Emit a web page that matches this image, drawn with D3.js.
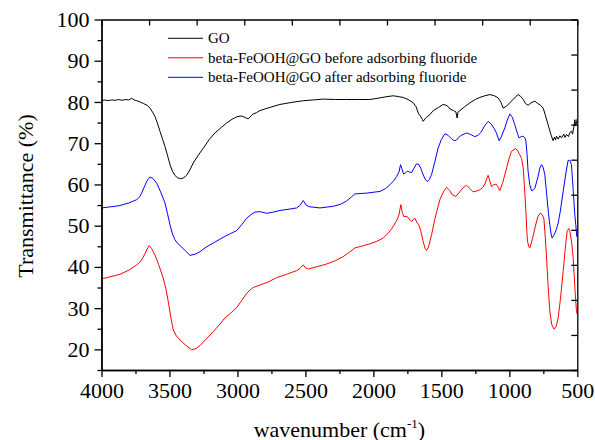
<!DOCTYPE html>
<html><head><meta charset="utf-8">
<script src="https://cdn.jsdelivr.net/npm/d3@7"></script>
<style>
html,body{margin:0;padding:0;background:#fff;}
svg text{font-family:"Liberation Serif","Times New Roman",serif;fill:#000;}
</style></head>
<body>
<svg id="chart" width="595" height="440"></svg>
<script>
// ---------- data ----------
const seriesNames = ["GO", "beta-FeOOH@GO before adsorbing fluoride", "beta-FeOOH@GO after adsorbing fluoride"];
const seriesColors = ["#000000", "#ff0000", "#0000ff"];
const xTicks = [4000, 3500, 3000, 2500, 2000, 1500, 1000, 500];
const yTicks = [20, 30, 40, 50, 60, 70, 80, 90, 100];

const goData = [[4000,80.3],[3975,80.5],[3950,80.3],[3925,80.5],[3900,80.4],[3875,80.6],[3850,80.4],[3825,80.6],[3800,80.5],[3778,80.9],[3760,80.5],[3740,80.3],[3717,80.0],[3690,79.6],[3665,79.2],[3643,78.5],[3620,77.3],[3607,76.5],[3590,75.0],[3570,72.9],[3550,70.9],[3533,69.2],[3515,67.1],[3496,64.8],[3478,63.2],[3460,62.2],[3440,61.6],[3418,61.4],[3395,61.6],[3374,62.2],[3350,63.5],[3325,65.2],[3290,67.0],[3251,68.8],[3210,70.8],[3165,72.5],[3120,73.8],[3079,74.9],[3040,75.8],[3006,76.4],[2970,76.6],[2940,76.2],[2921,75.9],[2900,76.6],[2884,77.1],[2860,77.4],[2835,77.9],[2760,78.7],[2687,79.4],[2600,79.9],[2516,80.3],[2440,80.5],[2369,80.7],[2280,80.6],[2197,80.6],[2110,80.6],[2026,80.6],[1950,81.0],[1900,81.3],[1854,81.5],[1815,81.3],[1781,81.1],[1745,80.6],[1707,79.8],[1685,78.8],[1670,77.3],[1655,76.6],[1640,75.8],[1634,75.3],[1620,75.9],[1609,76.3],[1585,76.9],[1560,77.9],[1520,78.7],[1487,79.4],[1465,79.2],[1450,78.9],[1437,78.3],[1410,77.9],[1393,77.6],[1384,76.1],[1378,77.5],[1364,77.9],[1330,78.8],[1290,79.8],[1250,80.6],[1217,81.1],[1180,81.5],[1143,81.8],[1110,81.5],[1082,81.0],[1060,79.8],[1046,78.5],[1020,79.0],[996,79.8],[965,80.9],[935,81.8],[915,81.3],[898,80.6],[880,79.6],[862,79.2],[840,79.8],[812,80.2],[790,79.6],[770,79.2],[751,78.5],[735,76.8],[715,74.5],[695,72.2],[678,70.6],[668,71.5],[660,70.8],[653,71.7],[640,71.0],[628,71.8],[616,71.3],[600,72.2],[590,71.4],[579,72.1],[565,71.6],[555,72.6],[543,72.9],[535,72.2],[525,74.0],[518,75.7],[512,74.3],[506,74.9],[500,76.0]];

const beforeData = [[4000,0],[4000,37.1],[3950,37.5],[3900,37.9],[3864,38.2],[3800,39.2],[3741,40.5],[3720,41.1],[3705,41.7],[3680,43.2],[3660,44.6],[3649,45.2],[3630,44.4],[3607,42.9],[3580,40.6],[3546,37.3],[3525,34.5],[3509,31.6],[3490,27.8],[3472,24.7],[3450,23.3],[3423,22.3],[3380,21.0],[3337,19.9],[3305,20.2],[3276,20.9],[3230,22.5],[3178,24.3],[3130,26.1],[3092,27.6],[3050,28.8],[3006,30.1],[2970,31.8],[2932,33.6],[2900,34.6],[2884,35.0],[2835,35.6],[2770,36.4],[2712,37.4],[2640,38.2],[2565,39.1],[2540,39.6],[2516,40.5],[2498,39.7],[2479,39.5],[2410,40.1],[2344,40.7],[2280,41.5],[2222,42.5],[2175,43.6],[2136,44.6],[2080,45.1],[2026,45.6],[1975,46.2],[1928,47.0],[1890,48.2],[1854,49.8],[1830,51.2],[1812,52.6],[1798,55.1],[1788,53.2],[1776,52.2],[1760,52.3],[1744,52.0],[1730,51.3],[1719,51.0],[1705,51.6],[1695,51.8],[1680,50.8],[1663,50.0],[1650,48.5],[1634,46.2],[1620,44.5],[1609,44.0],[1595,44.8],[1572,47.8],[1545,52.0],[1511,56.3],[1485,58.2],[1462,59.3],[1440,58.6],[1420,57.5],[1393,57.1],[1365,58.2],[1340,59.2],[1315,59.8],[1290,59.0],[1266,58.2],[1240,58.4],[1217,58.7],[1195,59.3],[1180,60.1],[1165,61.5],[1156,62.2],[1145,61.0],[1131,59.5],[1115,59.9],[1099,60.1],[1085,59.5],[1070,58.5],[1050,60.3],[1026,63.2],[1005,66.0],[984,68.0],[965,68.5],[952,68.7],[938,68.1],[923,67.2],[910,66.3],[898,64.0],[890,60.0],[878,53.4],[872,49.0],[866,46.2],[857,44.9],[849,44.6],[830,46.8],[812,49.4],[790,52.2],[771,53.1],[758,52.6],[746,51.8],[736,47.5],[726,42.1],[714,35.0],[702,29.2],[688,26.0],[671,24.9],[655,25.6],[641,27.6],[625,32.0],[604,38.9],[590,44.0],[575,48.6],[562,49.3],[555,48.8],[542,46.0],[530,42.1],[518,35.0],[506,29.2],[502,28.6]];

const afterData = [[4000,0],[4000,54.3],[3950,54.5],[3900,54.7],[3864,54.9],[3800,55.5],[3741,56.3],[3720,57.0],[3705,57.9],[3680,59.8],[3660,61.2],[3643,61.8],[3620,61.4],[3594,60.3],[3565,58.2],[3533,55.5],[3515,53.0],[3496,50.2],[3478,48.0],[3460,46.6],[3440,45.7],[3410,44.8],[3380,43.8],[3349,42.8],[3310,43.1],[3276,43.7],[3230,44.8],[3178,45.8],[3130,46.7],[3092,47.4],[3050,48.1],[3006,48.8],[2970,50.2],[2932,51.8],[2900,52.7],[2871,53.3],[2835,53.4],[2785,53.0],[2735,53.3],[2687,53.7],[2620,54.0],[2565,54.3],[2540,54.9],[2516,56.1],[2495,55.0],[2472,54.6],[2393,54.3],[2296,54.7],[2240,55.2],[2197,56.0],[2160,57.0],[2136,57.7],[2050,57.9],[1952,58.3],[1910,59.0],[1879,59.9],[1850,60.9],[1829,61.9],[1812,63.0],[1800,64.8],[1790,63.8],[1778,62.5],[1765,62.8],[1751,63.2],[1732,63.0],[1719,62.9],[1700,64.0],[1683,65.0],[1665,64.8],[1650,63.8],[1634,62.4],[1620,61.3],[1604,60.7],[1588,61.2],[1572,62.4],[1548,65.5],[1524,68.8],[1500,70.9],[1474,72.3],[1450,71.9],[1420,70.9],[1401,70.6],[1388,70.8],[1360,71.8],[1315,72.5],[1285,72.1],[1254,71.6],[1230,71.9],[1210,72.6],[1180,74.3],[1156,75.3],[1135,74.7],[1114,73.7],[1095,72.5],[1075,70.6],[1060,71.5],[1033,73.7],[1015,75.6],[996,77.1],[978,76.3],[960,74.5],[940,72.3],[928,71.3],[912,71.6],[898,71.7],[885,71.3],[878,70.5],[870,67.5],[862,63.2],[850,60.0],[837,58.5],[825,58.6],[812,59.1],[790,61.8],[775,64.0],[763,64.8],[752,64.2],[739,62.4],[725,57.5],[712,53.0],[702,50.2],[693,48.0],[685,47.0],[670,47.8],[655,49.0],[641,50.6],[625,53.5],[604,58.3],[585,62.5],[568,65.8],[555,65.9],[543,64.8],[530,58.5],[518,52.5],[511,50.2],[504,47.3]];

const allSeries = [goData, beforeData, afterData];

// ---------- layout ----------
const margin = {left: 101.5, right: 17.7, top: 19.5, bottom: 70};
const W = 595, H = 440;
const pw = W - margin.left - margin.right, ph = H - margin.top - margin.bottom;

const svg = d3.select("#chart");
const g = svg.append("g").attr("transform", `translate(${margin.left},${margin.top})`);

const x = d3.scaleLinear().domain([4000, 500]).range([0, pw]);
const y = d3.scaleLinear().domain([15, 100]).range([ph, 0]);

svg.append("defs").append("clipPath").attr("id", "clip")
  .append("rect").attr("x", 0).attr("y", 0).attr("width", pw).attr("height", ph);

// lines
const line = d3.line().x(d => x(d[0])).y(d => y(d[1]));
const plot = g.append("g").attr("clip-path", "url(#clip)");
allSeries.forEach((s, i) => {
  plot.append("path").datum(s).attr("d", line)
    .attr("fill", "none").attr("stroke", seriesColors[i]).attr("stroke-width", 1)
    .attr("stroke-linejoin", "round");
});

// axes
const fs = 22;
const minorX = d3.range(4000, 499, -250).filter(v => !xTicks.includes(v));
const minorY = d3.range(15, 101, 5).filter(v => !yTicks.includes(v));

const xAxis = g.append("g").attr("transform", `translate(0,${ph})`)
  .call(d3.axisBottom(x).tickValues(xTicks).tickSize(7).tickPadding(5).tickSizeOuter(0).tickFormat(d3.format("d")));
const xMinor = g.append("g").attr("transform", `translate(0,${ph})`)
  .call(d3.axisBottom(x).tickValues(minorX).tickSize(4).tickSizeOuter(0).tickFormat(""));
const yAxis = g.append("g")
  .call(d3.axisLeft(y).tickValues(yTicks).tickSize(7).tickPadding(5).tickSizeOuter(0).tickFormat(d3.format("d")));
const yMinor = g.append("g")
  .call(d3.axisLeft(y).tickValues(minorY).tickSize(4).tickSizeOuter(0).tickFormat(""));
const topAxis = g.append("g")
  .call(d3.axisBottom(x).tickValues(d3.range(0, 11).map(k => 4000 - 350 * k)).tickSize(6).tickSizeOuter(0).tickFormat(""));
const rightAxis = g.append("g").attr("transform", `translate(${pw},0)`)
  .call(d3.axisLeft(y).tickValues(d3.range(0, 11).map(k => 15 + 8.5 * k)).tickSize(6).tickSizeOuter(0).tickFormat(""));
[xAxis, xMinor, yAxis, yMinor, topAxis, rightAxis].forEach(a => {
  a.attr("font-family", null);
  a.selectAll("path.domain").attr("stroke", "#000").attr("stroke-width", 1.3);
  a.selectAll("line").attr("stroke", "#000").attr("stroke-width", 1.3);
  a.selectAll("text").style("font-family", '"Liberation Serif", serif').style("font-size", fs + "px").attr("fill", "#000");
});

// axis titles
svg.append("text").attr("x", margin.left + pw / 2).attr("y", 436.5)
  .attr("text-anchor", "middle").style("font-size", "22px")
  .html('wavenumber (cm<tspan dy="-9" style="font-size:13px">-1</tspan><tspan dy="9">)</tspan>');
svg.append("text").attr("transform", `translate(33,196) rotate(-90)`)
  .attr("text-anchor", "middle").style("font-size", "22px").text("Transmittance (%)");

// legend
const legend = svg.append("g");
seriesNames.forEach((name, i) => {
  const ly = 38.3 + i * 19.5;
  legend.append("line").attr("x1", 168).attr("x2", 203).attr("y1", ly).attr("y2", ly)
    .attr("stroke", seriesColors[i]).attr("stroke-width", 1);
  legend.append("text").attr("x", 208).attr("y", ly + 5).style("font-size", "15px").text(name);
});
</script>
</body></html>
